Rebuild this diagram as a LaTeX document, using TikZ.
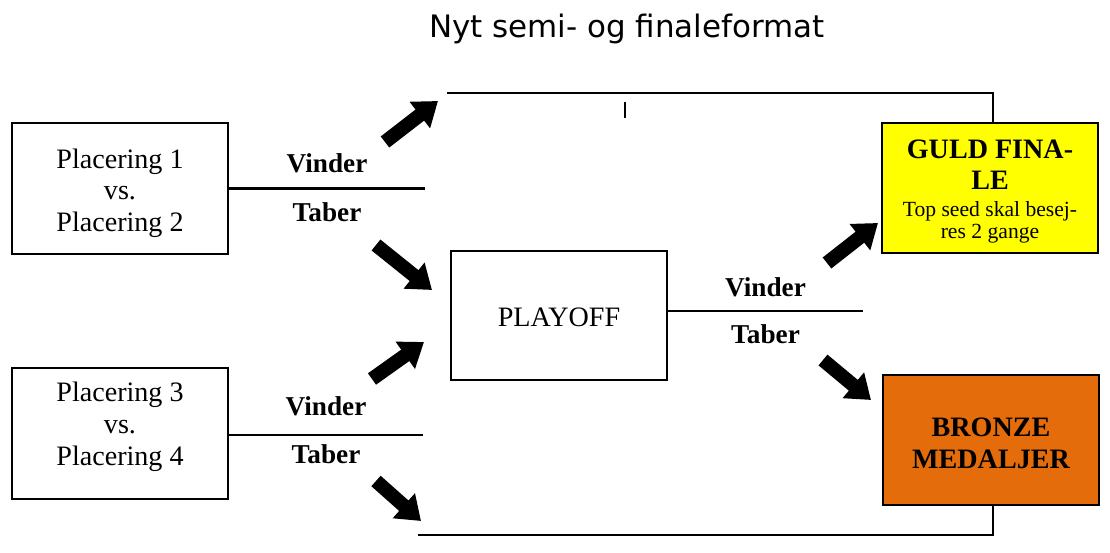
\documentclass[tikz,border=0pt]{standalone}
\usepackage{fontspec}
\setmainfont{Liberation Serif}
\newfontfamily\titlefont{DejaVu Sans}
\usetikzlibrary{arrows.meta}
\definecolor{guldYellow}{HTML}{FFFF00}
\definecolor{bronzeOrange}{HTML}{E46C0A}

\begin{document}
\begin{tikzpicture}[x=0.02cm,y=-0.02cm]
    \tikzset{
        box/.style={draw,line width=1.2pt,minimum width=4.32cm,minimum height=2.62cm,
            align=center,inner sep=0pt,font=\fontsize{16}{18}\selectfont},
        lbl/.style={font=\fontsize{15.5}{18}\selectfont\bfseries},
        line/.style={line width=1.4pt},
        bigarrow/.style={line width=0.28cm,-{Triangle[length=0.46cm,width=0.64cm]}}
    }
    \useasboundingbox (0,0) rectangle (1110,553);
    \node[font=\titlefont\fontsize{17.6}{20}\selectfont] (title) at (627,29) {Nyt semi- og finaleformat};

    \node[box] (plac12) at (120,188.5) {\rule{0pt}{16.3pt}Placering 1\\vs.\\Placering 2};
    \node[box] (plac34) at (120,433.3) {Placering 3\\vs.\\Placering 4\rule[-11pt]{0pt}{11pt}};
    \node[box,minimum height=2.58cm] (playoff) at (559,315.5) {\rule{0pt}{13.1pt}PLAYOFF};
    \node[box,fill=guldYellow,minimum height=2.6cm,font=\fontsize{16}{18}\selectfont\bfseries] (guld) at (990,188)
        {\rule{0pt}{14.4pt}GULD FINA-\\LE\\[-2.6pt]{\normalfont\fontsize{12.3}{13}\selectfont Top seed skal besej-}\\[-5.6pt]{\normalfont\fontsize{12.3}{13}\selectfont res 2 gange}};
    \node[box,fill=bronzeOrange,minimum height=2.6cm,font=\fontsize{16}{18}\selectfont\bfseries] (bronze) at (991,440)
        {\rule{0pt}{14.6pt}BRONZE\\MEDALJER};

    \coordinate (v12) at (425,188.5);
    \coordinate (v34) at (423,435);
    \coordinate (vpo) at (863,311);
    \draw[line] (plac12.east) -- node[lbl,above=5pt]{Vinder} node[lbl,below=4pt]{Taber} (v12);
    \draw[line] (plac34.east |- v34) -- node[lbl,above=7pt]{Vinder} node[lbl,below=1.3pt]{Taber} (v34);
    \draw[line] (playoff.east |- vpo) -- node[lbl,above=4.1pt]{Vinder} node[lbl,below=3.5pt]{Taber} (vpo);

    \coordinate (topstart) at (447,93);
    \coordinate (botstart) at (418,535);
    \draw[line] (topstart) -| ([xshift=0.06cm]guld.north);
    \draw[line] (botstart) -| ([xshift=0.04cm]bronze.south);
    \draw[line width=0.6pt] (625,102) -- (625,118);

    \foreach \n/\tx/\ty/\hx/\hy in {1/385/142/438/101, 2/376/245/432/290, 3/372/379/424/342,
        4/376/481/421/521, 5/827/263/878/223, 6/823/360/871/400}{
        \coordinate (t\n) at (\tx,\ty);
        \coordinate (h\n) at (\hx,\hy);
        \draw[bigarrow] (t\n) -- (h\n);
    }
\end{tikzpicture}
\end{document}
